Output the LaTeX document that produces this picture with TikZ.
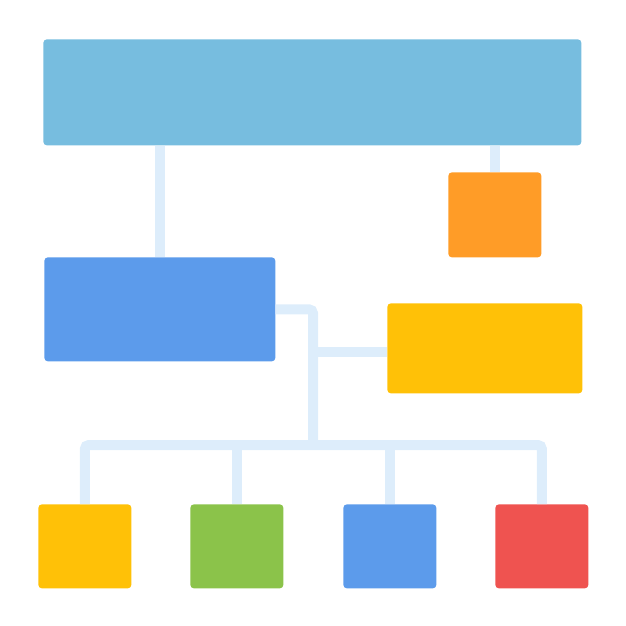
\documentclass[tikz,border=0pt]{standalone}
\usepackage{tikz}

\definecolor{topblue}{HTML}{77BDDF}
\definecolor{midblue}{HTML}{5C9BEB}
\definecolor{tileorange}{HTML}{FF9C27}
\definecolor{tileyellow}{HTML}{FFC107}
\definecolor{tilegreen}{HTML}{8BC34A}
\definecolor{tilered}{HTML}{EF5350}
\definecolor{wire}{HTML}{DDEDFB}

\begin{document}
\begin{tikzpicture}[x=0.2mm,y=-0.2mm,
  tile/.style={rounded corners=0.7mm,inner sep=0,anchor=north west},
  link/.style={wire,line width=2mm,rounded corners=0.8mm}]
\useasboundingbox (0,0) rectangle (626,626);
% boxes
\node[tile,fill=topblue,minimum width=107.6mm,minimum height=21.2mm] (head) at (43,39) {};
\node[tile,fill=tileorange,minimum width=18.6mm,minimum height=17mm] (side) at (448,172) {};
\node[tile,fill=midblue,minimum width=46.2mm,minimum height=20.8mm] (mgr) at (44,257) {};
\node[tile,fill=tileyellow,minimum width=39mm,minimum height=18mm] (asst) at (387,303) {};
\node[tile,fill=tileyellow,minimum width=18.6mm,minimum height=16.8mm] (b1) at (38,504) {};
\node[tile,fill=tilegreen,minimum width=18.6mm,minimum height=16.8mm] (b2) at (190,504) {};
\node[tile,fill=midblue,minimum width=18.6mm,minimum height=16.8mm] (b3) at (343,504) {};
\node[tile,fill=tilered,minimum width=18.6mm,minimum height=16.8mm] (b4) at (495,504) {};
\coordinate (bus) at (313,445);
% connectors
\draw[link] (mgr.north) -- (mgr.north |- head.south);
\draw[link] (side.north) -- (side.north |- head.south);
\draw[link] (mgr.east) -| (bus);
\draw[link] ([yshift=-0.7mm]asst.west) -- ([yshift=-0.7mm]asst.west -| bus);
\draw[link] (b1.north) -- (b1.north |- bus) -- (b4.north |- bus) -- (b4.north);
\draw[link] (b2.north) -- (b2.north |- bus);
\draw[link] (b3.north) -- (b3.north |- bus);
\end{tikzpicture}
\end{document}
